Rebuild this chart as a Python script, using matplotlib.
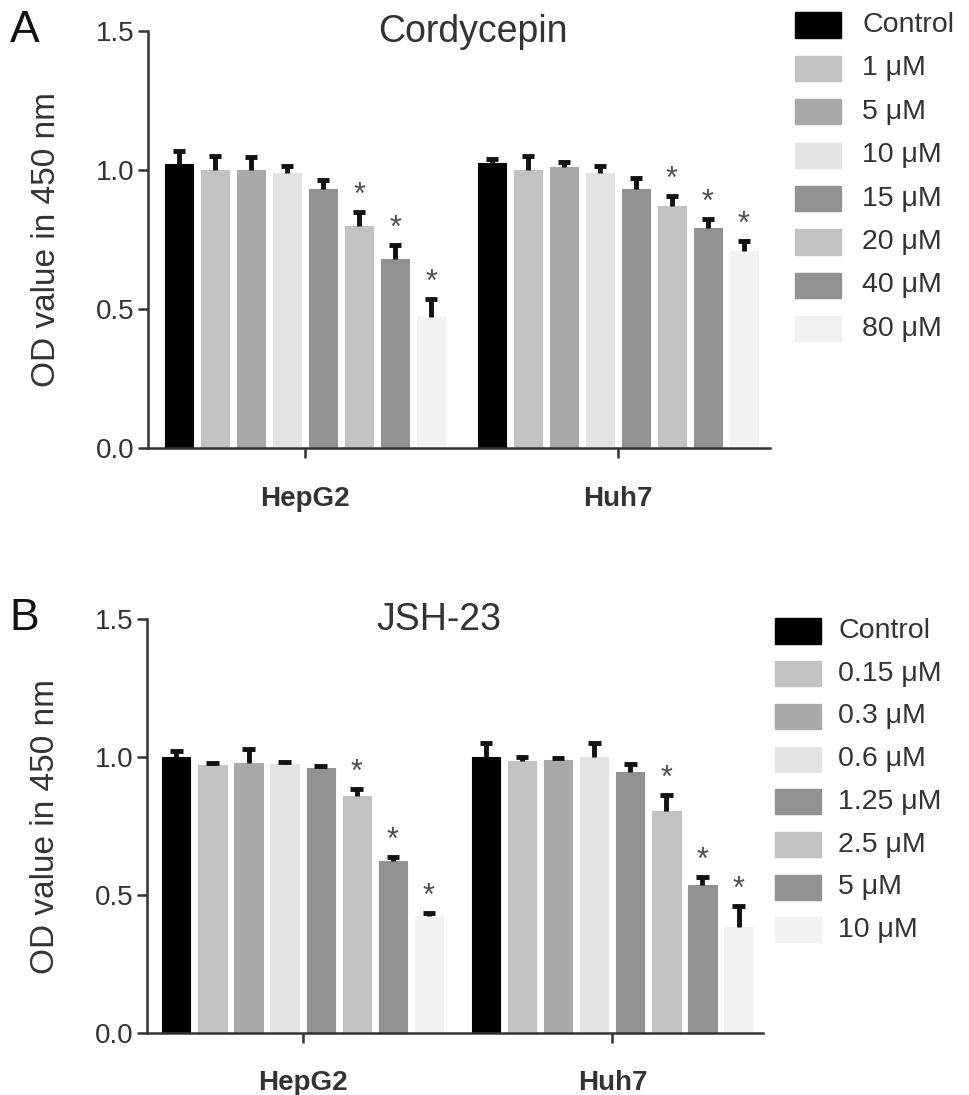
import matplotlib
matplotlib.use("Agg")
import matplotlib.pyplot as plt
import numpy as np

plt.rcParams['font.family'] = ['Liberation Sans', 'DejaVu Sans']

groups = ["HepG2", "Huh7"]

# Panel A: Cordycepin
labels_a = ["Control", "1 μM", "5 μM", "10 μM", "15 μM", "20 μM", "40 μM", "80 μM"]
hepg2_a = [1.02, 1.00, 1.00, 0.99, 0.93, 0.80, 0.68, 0.47]
hepg2_a_err = [0.05, 0.05, 0.045, 0.025, 0.035, 0.05, 0.05, 0.065]
huh7_a = [1.025, 1.00, 1.01, 0.99, 0.93, 0.87, 0.79, 0.71]
huh7_a_err = [0.015, 0.05, 0.02, 0.025, 0.04, 0.035, 0.035, 0.035]
sig_a = [False, False, False, False, False, True, True, True]

# Panel B: JSH-23
labels_b = ["Control", "0.15 μM", "0.3 μM", "0.6 μM", "1.25 μM", "2.5 μM", "5 μM", "10 μM"]
hepg2_b = [1.00, 0.97, 0.98, 0.975, 0.96, 0.86, 0.625, 0.425]
hepg2_b_err = [0.02, 0.01, 0.05, 0.008, 0.008, 0.025, 0.012, 0.01]
huh7_b = [1.00, 0.985, 0.99, 1.00, 0.945, 0.805, 0.535, 0.385]
huh7_b_err = [0.05, 0.015, 0.006, 0.05, 0.03, 0.057, 0.03, 0.075]
sig_b = [False, False, False, False, False, True, True, True]

colors = ["#000000", "#c2c2c2", "#a9a9a9", "#e3e3e3", "#929292", "#c2c2c2", "#929292", "#f2f2f2"]

fig = plt.figure(figsize=(9.69, 10.95), dpi=100)

def panel(rect, letter, title, title_x, title_y, letter_y, labels, v1, e1, v2, e2, sig,
          pitch, leg_x_box, leg_x_text, leg_y0, leg_dy):
    ax = fig.add_axes(rect)
    n = len(labels)
    width = 0.78 * pitch
    cap = 0.17 * pitch
    offsets = (np.arange(n) - (n - 1) / 2) * pitch
    for gi, (vals, errs) in enumerate([(v1, e1), (v2, e2)]):
        xs = gi + offsets
        ax.bar(xs, vals, width=width, color=colors, edgecolor=colors,
               linewidth=0.8, zorder=2)
        vals = np.asarray(vals)
        errs = np.asarray(errs)
        ax.vlines(xs, vals, vals + errs, color='#111111', linewidth=3.5, zorder=3)
        ax.hlines(vals + errs, xs - cap, xs + cap, color='#111111', linewidth=3.5, zorder=3)
        for i in range(n):
            if sig[i]:
                ax.text(xs[i], vals[i] + errs[i] + 0.004, "*", ha='center', va='bottom',
                        fontsize=22, color='#505050', zorder=4)
    ax.set_ylim(0, 1.5)
    ax.set_xlim(-0.502, 1.486)
    ax.set_yticks([0.0, 0.5, 1.0, 1.5])
    ax.set_yticklabels(["0.0", "0.5", "1.0", "1.5"])
    ax.set_xticks([0, 1])
    ax.set_xticklabels(groups, fontweight='bold', fontsize=20)
    for s in ["top", "right"]:
        ax.spines[s].set_visible(False)
    for s in ["left", "bottom"]:
        ax.spines[s].set_linewidth(1.8)
        ax.spines[s].set_color('#333333')
    ax.tick_params(axis='y', labelsize=20, length=7, width=1.8, colors='#333333', pad=3)
    ax.tick_params(axis='x', length=7, width=1.8, colors='#333333', pad=20)
    for t in ax.get_yticklabels() + ax.get_xticklabels():
        t.set_color('#333333')
    ax.set_ylabel("OD value in 450 nm", fontsize=24, color='#333333', labelpad=24)
    fig.text(title_x, title_y, title, fontsize=27, color='#333333', ha='center', va='center')
    fig.text(0.010, letter_y, letter, fontsize=32, color='#111111', ha='left', va='center')
    # legend
    for i, lab in enumerate(labels):
        yc = leg_y0 - i * leg_dy
        fig.patches.append(plt.Rectangle((leg_x_box, yc - 0.0115), 0.047, 0.023,
                                         transform=fig.transFigure, facecolor=colors[i],
                                         edgecolor=colors[i], figure=fig))
        fig.text(leg_x_text, yc, lab, fontsize=20.5, color='#333333', ha='left', va='center')
    return ax

panel([148 / 969, 1 - 448 / 1095, 622 / 969, 417 / 1095], "A", "Cordycepin",
      473 / 969, 1 - 32 / 1095, 1 - 30 / 1095, labels_a, hepg2_a, hepg2_a_err,
      huh7_a, huh7_a_err, sig_a, 36 / 313, 795 / 969, 862 / 969, 1 - 25 / 1095, 43.4 / 1095)

panel([147 / 969, 1 - 1033 / 1095, 616 / 969, 414 / 1095], "B", "JSH-23",
      439 / 969, 1 - 620 / 1095, 1 - 618 / 1095, labels_b, hepg2_b, hepg2_b_err,
      huh7_b, huh7_b_err, sig_b, 35.7 / 307, 775 / 969, 838 / 969, 1 - 631 / 1095, 42.7 / 1095)

fig.savefig("out.png", dpi=100)
